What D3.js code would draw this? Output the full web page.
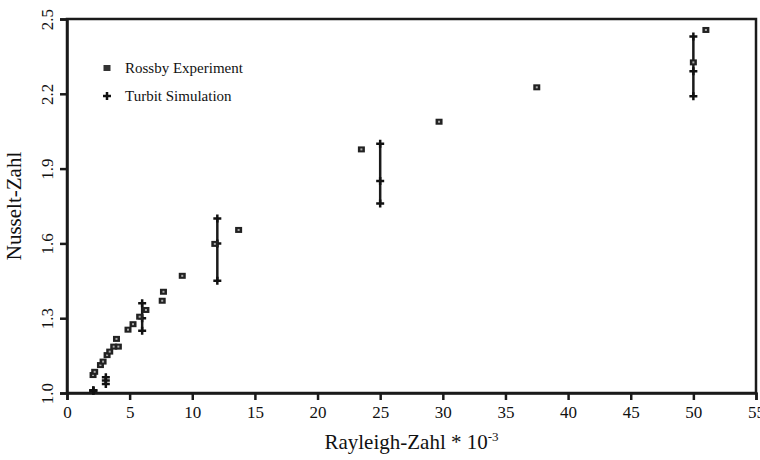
<!DOCTYPE html>
<html>
<head>
<meta charset="utf-8">
<script src="https://cdn.jsdelivr.net/npm/d3@7"></script>
<style>
  body { margin: 0; background: #fff; }
  text { font-family: "Liberation Serif", "DejaVu Serif", serif; fill: #111; }
</style>
</head>
<body>
<div id="chart"></div>
<script>
// Rossby experiment (x = Ra * 10^-3, y = Nu)
let rossbyX = [2.08, 2.21, 2.67, 2.88, 3.2, 3.41, 3.73, 4.1, 3.95, 4.87, 5.27, 5.8, 6.3, 7.6, 7.7, 9.2, 11.8, 13.7, 23.5, 29.7, 37.5, 50, 51];
let rossbyY = [1.072, 1.085, 1.112, 1.126, 1.152, 1.166, 1.186, 1.186, 1.217, 1.254, 1.276, 1.306, 1.333, 1.37, 1.406, 1.47, 1.598, 1.654, 1.977, 2.088, 2.226, 2.326, 2.456];

// Turbit simulation: mean with min / max
let turbitX = [2.1, 3.1, 6, 12, 25, 50];
let turbitMid = [1.01, 1.05, 1.30, 1.60, 1.85, 2.29];
let turbitLo = [1.01, 1.036, 1.25, 1.45, 1.76, 2.19];
let turbitHi = [1.01, 1.063, 1.36, 1.70, 2.00, 2.43];

let xTicks = [0, 5, 10, 15, 20, 25, 30, 35, 40, 45, 50, 55];
let yTicks = [1.0, 1.3, 1.6, 1.9, 2.2, 2.5];

let margin = {top: 19, right: 4, bottom: 67, left: 67};
let width = 760 - margin.left - margin.right;
let height = 460 - margin.top - margin.bottom;

let svg = d3.select("#chart").append("svg")
    .attr("width", 760)
    .attr("height", 460)
    .append("g")
    .attr("transform", `translate(${margin.left}, ${margin.top})`);

let x = d3.scaleLinear().domain([0, 55]).range([0, width]);
let y = d3.scaleLinear().domain([1.0, 2.5]).range([height, 0]);

// frame
svg.append("rect")
    .attr("x", 0).attr("y", 0)
    .attr("width", width).attr("height", height)
    .attr("fill", "none")
    .attr("stroke", "#1a1a1a")
    .attr("stroke-width", 2.5);

// x axis
let xAxis = svg.append("g")
    .attr("transform", `translate(0, ${height})`)
    .call(d3.axisBottom(x).tickValues(xTicks).tickSize(7).tickPadding(6).tickFormat(d3.format("d")));
xAxis.select(".domain").attr("stroke", "#1a1a1a").attr("stroke-width", 2.5);
xAxis.selectAll(".tick line").attr("stroke", "#1a1a1a").attr("stroke-width", 2.5);
xAxis.selectAll(".tick text")
    .style("font-family", "Liberation Serif, serif")
    .style("font-size", "17px")
    .attr("fill", "#111");

// y axis
let yAxis = svg.append("g")
    .call(d3.axisLeft(y).tickValues(yTicks).tickSize(7).tickFormat(d3.format(".1f")));
yAxis.select(".domain").attr("stroke", "#1a1a1a").attr("stroke-width", 2.5);
yAxis.selectAll(".tick line").attr("stroke", "#1a1a1a").attr("stroke-width", 2.5);
yAxis.selectAll(".tick text")
    .attr("x", null).attr("dy", null)
    .attr("transform", "translate(-14, 0) rotate(-90)")
    .attr("text-anchor", "middle")
    .style("font-family", "Liberation Serif, serif")
    .style("font-size", "17px")
    .attr("fill", "#111");

// axis titles
let xTitle = svg.append("text")
    .attr("x", width / 2)
    .attr("y", height + 56)
    .attr("text-anchor", "middle")
    .style("font-size", "21px");
xTitle.append("tspan").text("Rayleigh-Zahl * 10");
xTitle.append("tspan").text("-3").attr("dy", -8).style("font-size", "13px");

svg.append("text")
    .attr("transform", `translate(-46, ${height / 2}) rotate(-90)`)
    .attr("text-anchor", "middle")
    .style("font-size", "21px")
    .text("Nusselt-Zahl");

// turbit error bars
let turbit = turbitX.map((d, i) => ({x: d, mid: turbitMid[i], lo: turbitLo[i], hi: turbitHi[i]}));

svg.selectAll(".err")
    .data(turbit)
    .enter().append("line")
    .attr("class", "err")
    .attr("x1", d => x(d.x)).attr("x2", d => x(d.x))
    .attr("y1", d => y(d.lo)).attr("y2", d => y(d.hi))
    .attr("stroke", "#1a1a1a")
    .attr("stroke-width", 2.5);

let plusPath = "M-4,0H4M0,-4V4";
let turbitPts = [];
turbit.forEach(d => {
    [d.lo, d.mid, d.hi].forEach(v => turbitPts.push({x: d.x, y: v}));
});

svg.selectAll(".plus")
    .data(turbitPts)
    .enter().append("path")
    .attr("class", "plus")
    .attr("d", plusPath)
    .attr("transform", d => `translate(${x(d.x)}, ${y(d.y)})`)
    .attr("stroke", "#111")
    .attr("stroke-width", 2.5)
    .attr("fill", "none");

// rossby squares: dark square with a small light centre
let rossby = rossbyX.map((d, i) => ({x: d, y: rossbyY[i]}));

let sq = svg.selectAll(".sq")
    .data(rossby)
    .enter().append("g")
    .attr("class", "sq")
    .attr("transform", d => `translate(${x(d.x)}, ${y(d.y)})`);
sq.append("rect")
    .attr("x", -3.5).attr("y", -3).attr("width", 7).attr("height", 6)
    .attr("fill", "#222");
sq.append("rect")
    .attr("x", -1).attr("y", -1).attr("width", 2).attr("height", 2)
    .attr("fill", "#aaa");

// legend
let legend = svg.append("g").attr("transform", "translate(40, 49)");
legend.append("rect")
    .attr("x", -3.5).attr("y", -3).attr("width", 7).attr("height", 6)
    .attr("fill", "#333");
legend.append("text")
    .attr("x", 18).attr("y", 5)
    .style("font-size", "15px")
    .text("Rossby Experiment");
legend.append("path")
    .attr("d", plusPath)
    .attr("transform", "translate(0, 28)")
    .attr("stroke", "#111").attr("stroke-width", 2.5);
legend.append("text")
    .attr("x", 18).attr("y", 33)
    .style("font-size", "15px")
    .text("Turbit Simulation");
</script>
</body>
</html>
